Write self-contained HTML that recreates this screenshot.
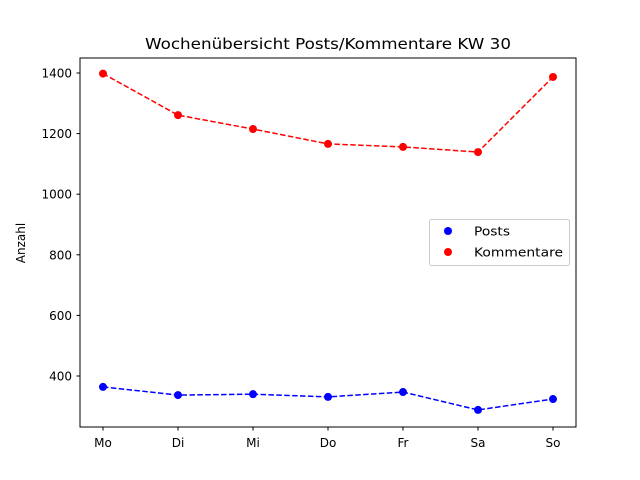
<!DOCTYPE html>
<html><head><meta charset="utf-8"><style>
body{margin:0;background:#fff;}
svg{display:block;font-family:"DejaVu Sans","Liberation Sans",sans-serif;}
</style></head><body>
<svg id="chart" width="640" height="480">
<rect width="640" height="480" fill="#fff"/>
<text x="145" y="49" font-size="15" textLength="366" lengthAdjust="spacingAndGlyphs">Wochenübersicht Posts/Kommentare KW 30</text>
<text transform="translate(25,243) rotate(-90)" font-size="12" text-anchor="middle">Anzahl</text>
<g id="axes"></g>
<g id="series"></g>
<rect x="80" y="58" width="496" height="369" fill="none" stroke="#000" stroke-width="1"/>
<g>
<rect x="429.5" y="219.5" width="140" height="46" rx="2" fill="#fff" stroke="#ccc"/>
<circle cx="448" cy="231" r="4" fill="#0000ff"/>
<text x="474" y="235.5" font-size="12.5" textLength="36" lengthAdjust="spacingAndGlyphs">Posts</text>
<circle cx="448" cy="252" r="4" fill="#ff0000"/>
<text x="474" y="256.5" font-size="12.5" textLength="89" lengthAdjust="spacingAndGlyphs">Kommentare</text>
</g>
</svg>
<script>
const categories=["Mo","Di","Mi","Do","Fr","Sa","So"];
const posts=[364,337,340,331,347,288,324];
const kommentare=[1398,1261,1215,1166,1156,1139,1387];
const yTicks=[400,600,800,1000,1200,1400];
const NS="http://www.w3.org/2000/svg";
const xs=i=>103+i*75;
const ys=v=>376-(v-400)*0.303;
const axes=document.getElementById('axes'),ser=document.getElementById('series');
function mk(tag,attrs,parent){const e=document.createElementNS(NS,tag);for(const k in attrs)e.setAttribute(k,attrs[k]);parent.appendChild(e);return e;}
categories.forEach((c,i)=>{
 const t=mk('line',{x1:xs(i),x2:xs(i),y1:427,y2:430.5,stroke:'#000'},axes);
 
 
 const l=mk('text',{x:xs(i),y:447,'font-size':12,'text-anchor':'middle'},axes);l.textContent=c;
 
 
});
yTicks.forEach(v=>{
 const t=mk('line',{x1:76.5,x2:80,y1:ys(v),y2:ys(v),stroke:'#000'},axes);
 
 
 const l=mk('text',{x:72,y:ys(v)+4.5,'font-size':12,'text-anchor':'end'},axes);l.textContent=v;
 
 
});
function draw(data,color,name){
 const p=mk('polyline',{points:data.map((v,i)=>xs(i)+','+ys(v)).join(' '),fill:'none',stroke:color,'stroke-width':1.5,'stroke-dasharray':'5.5,2.4'},ser);
 
 
 data.forEach((v,i)=>{
  const c=mk('circle',{cx:xs(i),cy:ys(v),r:4,fill:color},ser);
  
  
 });
}
draw(posts,'#0000ff','posts');
draw(kommentare,'#ff0000','kommentare');
</script>
</body></html>
